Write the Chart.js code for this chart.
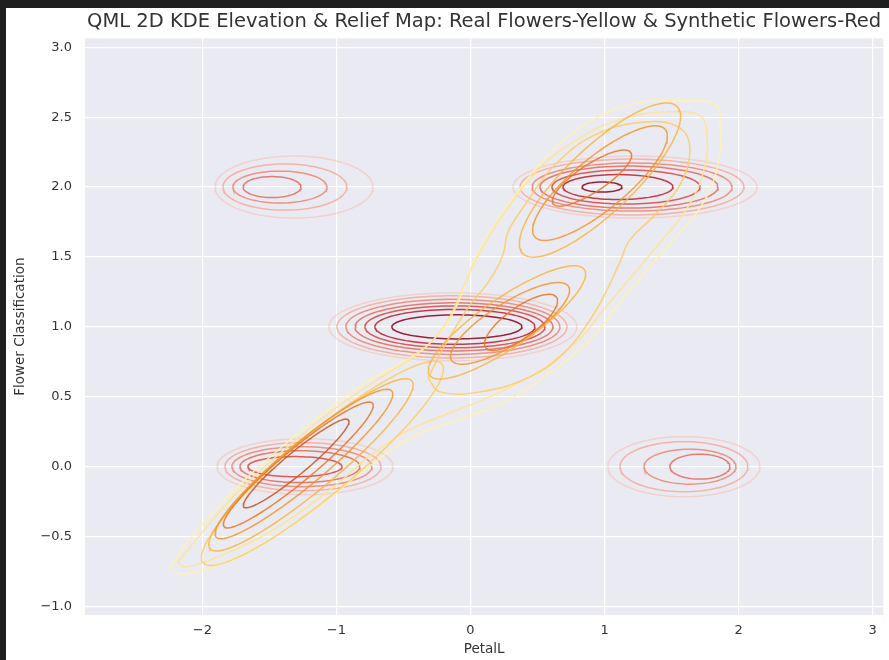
<!DOCTYPE html>
<html lang="en">
<head>
<meta charset="UTF-8">
<title>QML 2D KDE Elevation &amp; Relief Map</title>
<script src="https://cdn.jsdelivr.net/npm/chart.js"></script>
<style>
    body { margin: 0; background: #1f1f1f; }
    .card { position: absolute; left: 6px; top: 8px; width: 883px; height: 652px; background: #ffffff; }
</style>
</head>
<body>
<div class="card"><canvas id="grafico"></canvas></div>

<script>
    // eixos
    const xTicks = [-2, -1, 0, 1, 2, 3];
    const xTickLabels = ['\u22122', '\u22121', '0', '1', '2', '3'];
    const yTicks = [-1, -0.5, 0, 0.5, 1, 1.5, 2, 2.5, 3];
    const yTickLabels = ['\u22121.0', '\u22120.5', '0.0', '0.5', '1.0', '1.5', '2.0', '2.5', '3.0'];

    // flores sinteticas (vermelho): elipses, nivel 1 = mais externo
    const redCx    = [-1.316, -1.384, -1.421, -1.480,
                       1.227,  1.205,  1.205,  1.182,  1.160,  1.100,  0.981,
                      -0.131, -0.138, -0.131, -0.123, -0.116, -0.116, -0.101,
                      -1.234, -1.249, -1.257, -1.272, -1.309,
                       1.592,  1.592,  1.637,  1.711];
    const redCy    = [ 2.00, 2.00, 2.00, 2.00,
                       2.00, 2.00, 2.00, 2.00, 2.00, 2.00, 2.00,
                       1.00, 1.00, 1.00, 1.00, 1.00, 1.00, 1.00,
                       0.00, 0.00, 0.00, 0.00, 0.00,
                       0.00, 0.00, 0.00, 0.00];
    const redRx    = [0.589, 0.462, 0.351, 0.216,
                      0.910, 0.835, 0.746, 0.664, 0.552, 0.410, 0.149,
                      0.925, 0.858, 0.798, 0.738, 0.671, 0.597, 0.485,
                      0.656, 0.582, 0.522, 0.447, 0.351,
                      0.567, 0.477, 0.343, 0.224];
    const redRy    = [0.222, 0.165, 0.114, 0.075,
                      0.222, 0.200, 0.172, 0.150, 0.122, 0.089, 0.036,
                      0.243, 0.222, 0.197, 0.172, 0.150, 0.125, 0.086,
                      0.200, 0.172, 0.143, 0.114, 0.072,
                      0.215, 0.179, 0.125, 0.089];
    const redLevel = [1, 2, 3, 4,
                      1, 2, 3, 4, 5, 6, 7,
                      1, 2, 3, 4, 5, 6, 7,
                      1, 2, 3, 4, 5,
                      1, 2, 3, 4];

    // flores reais (amarelo): elipses inclinadas
    const yelCx    = [-1.104, -1.190, -1.242, -1.284, -1.300,  0.272,  0.295,  0.377,  0.966,  0.966,  0.906];
    const yelCy    = [ 0.024,  0.013,  0.019,  0.012,  0.023,  1.032,  1.025,  1.032,  2.050,  2.028,  2.064];
    const yelA     = [ 1.140,  0.963,  0.838,  0.708,  0.500,  0.690,  0.510,  0.320,  0.780,  0.620,  0.343];
    const yelB     = [ 0.223,  0.182,  0.150,  0.117,  0.080,  0.180,  0.150,  0.110,  0.240,  0.190,  0.100];
    const yelAngle = [ 38.5,   38.5,   38.5,   38.5,   38.5,   33,     31,     34,     42,     38,     32];
    const yelLevel = [ 3,      4,      5,      6,      7,      4,      5,      6,      4,      5,      6];

    // contornos externos das flores reais
    const realOuterX = [-2.241, -2.129, -1.906, -1.645, -1.346, -1.048, -0.750, -0.451, -0.227, -0.093, -0.004, 0.123, 0.317, 0.615, 0.914, 1.212, 1.585, 1.831, 1.861, 1.846, 1.726, 1.503, 1.301, 1.100, 0.891, 0.593, 0.257, -0.093, -0.436, -0.750, -1.122, -1.570, -1.943, -2.167, -2.241];
    const realOuterY = [-0.725, -0.560, -0.310, -0.059, 0.191, 0.421, 0.620, 0.778, 0.957, 1.171, 1.407, 1.636, 1.922, 2.266, 2.481, 2.595, 2.617, 2.588, 2.445, 2.159, 1.872, 1.608, 1.393, 1.157, 0.907, 0.671, 0.464, 0.335, 0.213, 0.005, -0.274, -0.560, -0.725, -0.768, -0.725];
    const realInnerX = [-2.181, -2.017, -1.719, -1.346, -0.973, -0.638, -0.377, -0.190, -0.063, 0.071, 0.257, 0.518, 0.817, 1.152, 1.488, 1.712, 1.764, 1.742, 1.622, 1.413, 1.212, 1.003, 0.794, 0.503, 0.160, -0.175, -0.489, -0.750, -1.048, -1.495, -1.906, -2.129, -2.181];
    const realInnerY = [-0.682, -0.488, -0.166, 0.156, 0.442, 0.656, 0.821, 1.014, 1.264, 1.536, 1.822, 2.137, 2.352, 2.495, 2.538, 2.509, 2.373, 2.123, 1.858, 1.601, 1.372, 1.136, 0.893, 0.678, 0.506, 0.377, 0.248, 0.077, -0.166, -0.467, -0.653, -0.718, -0.682];
    // contorno dourado que liga os grupos do meio e de cima
    const realMidX = [-0.317, -0.190, -0.019, 0.145, 0.242, 0.280, 0.406, 0.630, 0.929, 1.301, 1.562, 1.637, 1.562, 1.376, 1.190, 1.115, 1.018, 0.891, 0.705, 0.444, 0.071, -0.227, -0.317];
    const realMidY = [0.634, 0.870, 1.135, 1.336, 1.515, 1.679, 1.872, 2.159, 2.373, 2.466, 2.423, 2.266, 2.016, 1.801, 1.622, 1.465, 1.264, 1.049, 0.821, 0.642, 0.535, 0.535, 0.634];

    const coresVermelho = [null,
        'rgba(250,185,165,0.50)',
        'rgba(245,160,140,0.75)',
        'rgba(238,132,112,0.85)',
        'rgba(228,108,92,0.88)',
        'rgba(218,72,66,0.88)',
        'rgba(192,40,50,0.90)',
        'rgba(150,22,42,0.95)'];
    const coresAmarelo = [null,
        'rgba(255,242,175,0.90)',
        'rgba(254,228,145,0.90)',
        'rgba(253,205,95,0.85)',
        'rgba(251,180,62,0.85)',
        'rgba(245,148,40,0.85)',
        'rgba(232,118,36,0.85)',
        'rgba(200,92,40,0.90)'];

    function elipse(cx, cy, a, b, angulo) {
        const t = angulo * Math.PI / 180;
        const pts = [];
        for (let i = 0; i <= 90; i++) {
            const s = i / 90 * 2 * Math.PI;
            const u = a * Math.cos(s), v = b * Math.sin(s);
            pts.push({ x: cx + u * Math.cos(t) - v * Math.sin(t), y: cy + u * Math.sin(t) + v * Math.cos(t) });
        }
        return pts;
    }

    function linha(pts, cor, tensao) {
        return { data: pts, showLine: true, borderColor: cor, borderWidth: 1.5, pointRadius: 0, tension: tensao, fill: false };
    }

    const datasets = [];
    // amarelo por cima
    for (let i = yelCx.length - 1; i >= 0; i--) {
        datasets.push(linha(elipse(yelCx[i], yelCy[i], yelA[i], yelB[i], yelAngle[i]), coresAmarelo[yelLevel[i]], 0));
    }
    datasets.push(linha(realMidX.map((x, i) => ({ x: x, y: realMidY[i] })), coresAmarelo[3], 0.4));
    datasets.push(linha(realInnerX.map((x, i) => ({ x: x, y: realInnerY[i] })), coresAmarelo[2], 0.4));
    datasets.push(linha(realOuterX.map((x, i) => ({ x: x, y: realOuterY[i] })), coresAmarelo[1], 0.4));
    for (let i = redCx.length - 1; i >= 0; i--) {
        datasets.push(linha(elipse(redCx[i], redCy[i], redRx[i], redRy[i], 0), coresVermelho[redLevel[i]], 0));
    }

    const fundo = {
        id: 'fundo',
        beforeDraw(chart) {
            const { ctx, chartArea: a } = chart;
            ctx.save();
            ctx.fillStyle = '#eaeaf2';
            ctx.fillRect(a.left, a.top, a.right - a.left, a.bottom - a.top);
            ctx.restore();
        }
    };

    const titulo = {
        id: 'titulo',
        afterDraw(chart) {
            const { ctx, chartArea: a } = chart;
            ctx.save();
            ctx.font = '19.5px "DejaVu Sans", sans-serif';
            ctx.fillStyle = '#333333';
            ctx.textAlign = 'center';
            ctx.textBaseline = 'middle';
            ctx.fillText('QML 2D KDE Elevation & Relief Map: Real Flowers-Yellow & Synthetic Flowers-Red', (a.left + a.right) / 2, 14);
            ctx.restore();
        }
    };

    const fonteTick = { family: 'DejaVu Sans', size: 13 };
    const fonteTitulo = { family: 'DejaVu Sans', size: 13.5 };

    new Chart(document.getElementById('grafico'), {
        type: 'scatter',
        data: { datasets: datasets },
        options: {
            responsive: true,
            maintainAspectRatio: false,
            animation: false,
            layout: { padding: { left: 0, right: 5.7, top: 30.3, bottom: 0 } },
            plugins: { legend: { display: false }, tooltip: { enabled: false } },
            scales: {
                x: {
                    type: 'linear', min: -2.875, max: 3.079,
                    afterBuildTicks: s => { s.ticks = xTicks.map(v => ({ value: v })); },
                    afterFit: s => { s.height = 45; },
                    grid: { color: '#ffffff', lineWidth: 1.2, drawTicks: false },
                    border: { display: false },
                    ticks: { padding: 8, color: '#333333', font: fonteTick, maxRotation: 0, callback: (v, i) => xTickLabels[i] },
                    title: { display: true, text: 'PetalL', color: '#333333', font: fonteTitulo, padding: { top: 0, bottom: 2 } }
                },
                y: {
                    type: 'linear', min: -1.061, max: 3.064,
                    afterBuildTicks: s => { s.ticks = yTicks.map(v => ({ value: v })); },
                    afterFit: s => { s.width = 79; },
                    grid: { color: '#ffffff', lineWidth: 1.2, drawTicks: false },
                    border: { display: false },
                    ticks: { padding: 13, color: '#333333', font: fonteTick, callback: (v, i) => yTickLabels[i] },
                    title: { display: true, text: 'Flower Classification', color: '#333333', font: fonteTitulo, padding: { top: 6.5, bottom: 0 } }
                }
            }
        },
        plugins: [fundo, titulo]
    });
</script>
</body>
</html>
